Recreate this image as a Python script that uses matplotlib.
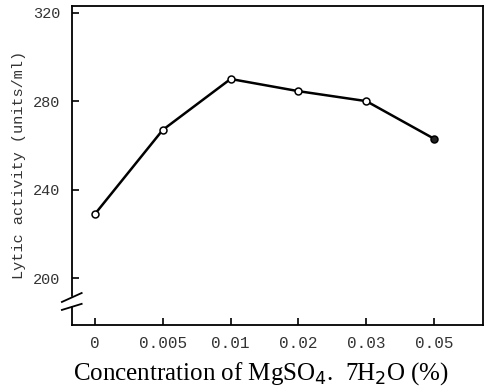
import matplotlib

matplotlib.use("Agg")
import matplotlib.pyplot as plt

# values
conc_labels = ["0", "0.005", "0.01", "0.02", "0.03", "0.05"]
activity = [229, 267, 290, 284.5, 280, 263]
y_ticks = [200, 240, 280, 320]

fig = plt.figure(figsize=(4.85, 3.91), dpi=100)
ax = fig.add_axes([0.148, 0.169, 0.848, 0.816])

x = list(range(len(conc_labels)))
ax.plot(x, activity, color="black", lw=1.8, zorder=2)
ax.plot(x[:-1], activity[:-1], "o", ms=5, mfc="white", mec="black", mew=1.1, zorder=3)
ax.plot(x[-1:], activity[-1:], "o", ms=5, mfc="#222222", mec="black", mew=1.1, zorder=3)

ax.set_xlim(-0.34, 5.72)
ax.set_ylim(179, 323)
ax.set_xticks(x)
ax.set_xticklabels(conc_labels)
ax.set_yticks(y_ticks)

mono = "Liberation Mono"
ax.tick_params(direction="in", length=5, width=1.2, labelsize=11, pad=8,
               labelcolor="#333333")
ax.tick_params(axis="x", labelsize=11.5)
for lab in ax.get_xticklabels() + ax.get_yticklabels():
    lab.set_family(mono)
for s in ax.spines.values():
    s.set_linewidth(1.3)

ax.set_ylabel("Lytic activity (units/ml)", family=mono, fontsize=11,
              color="#333333", labelpad=5)
ax.set_xlabel("Concentration of MgSO$_4$.  7H$_2$O (%)", family="Liberation Serif",
              fontsize=18, labelpad=5)
ax.xaxis.set_label_coords(0.46, -0.11)

# axis break marks on the left spine
kw = dict(transform=ax.transAxes, color="black", lw=1.3, clip_on=False, zorder=5)
ax.plot([0, 0], [0.066, 0.085], transform=ax.transAxes, color="white", lw=2.5,
        clip_on=False, zorder=4)
ax.plot([-0.024, 0.024], [0.072, 0.10], **kw)
ax.plot([-0.024, 0.024], [0.047, 0.066], **kw)

fig.savefig("out.png", dpi=100)
